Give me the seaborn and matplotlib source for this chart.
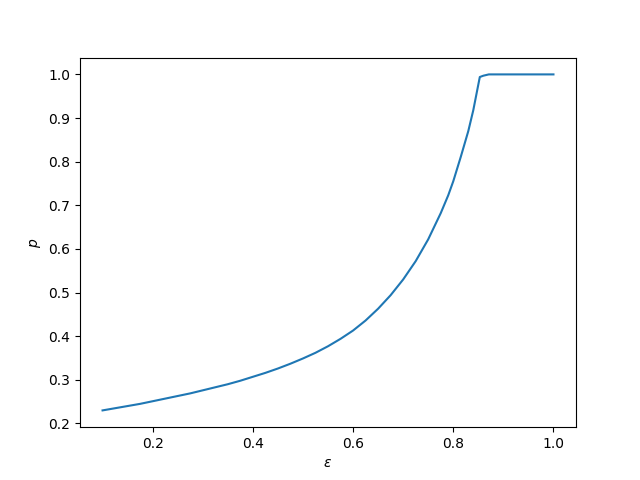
import matplotlib
matplotlib.use("Agg")
import matplotlib.pyplot as plt
import seaborn as sns
import pandas as pd

# values
eps = [0.100, 0.125, 0.150, 0.175, 0.200, 0.225, 0.250, 0.275, 0.300, 0.325,
       0.350, 0.375, 0.400, 0.425, 0.450, 0.475, 0.500, 0.525, 0.550, 0.575,
       0.600, 0.625, 0.650, 0.675, 0.700, 0.725, 0.750, 0.775, 0.790, 0.800,
       0.815, 0.830, 0.840, 0.853, 0.860, 0.871, 0.900, 0.950, 1.000]
p = [0.230, 0.235, 0.240, 0.245, 0.251, 0.257, 0.263, 0.269, 0.276, 0.283,
     0.290, 0.298, 0.307, 0.316, 0.326, 0.337, 0.349, 0.362, 0.377, 0.394,
     0.413, 0.436, 0.463, 0.494, 0.530, 0.572, 0.622, 0.682, 0.723, 0.755,
     0.811, 0.870, 0.918, 0.994, 0.997, 1.000, 1.000, 1.000, 1.000]

df = pd.DataFrame({"eps": eps, "p": p})

fig, ax = plt.subplots(figsize=(6.4, 4.8), dpi=100)
sns.lineplot(data=df, x="eps", y="p", ax=ax, color="#1f77b4")
ax.set_xlabel(r"$\varepsilon$")
ax.set_ylabel(r"$p$")
fig.savefig("out.png")
